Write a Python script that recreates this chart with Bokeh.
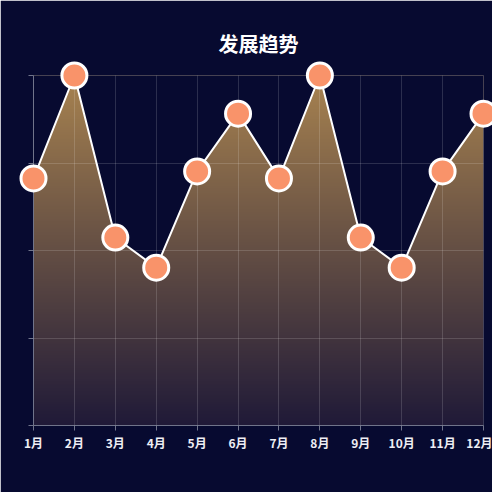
import numpy as np
from bokeh.plotting import figure
from bokeh.models import FixedTicker, CustomJSTickFormatter, Range1d
from bokeh.embed import file_html
from bokeh.resources import INLINE

# ---- data ----
months = ["1月", "2月", "3月", "4月", "5月", "6月", "7月", "8月", "9月", "10月", "11月", "12月"]
values = [70.6, 100, 53.7, 45.1, 72.6, 89.1, 70.6, 100, 53.7, 45.1, 72.6, 89.1]
y_ticks = [0, 25, 50, 75, 100]
title_text = "发展趋势"

# ---- styles ----
BG = "#070a30"
FONT = "Noto Sans CJK SC"
grad_top = (168, 131, 80)
grad_bottom = (32, 26, 56)

xs = list(range(len(months)))
ymax = y_ticks[-1]

p = figure(width=492, height=492, output_backend="svg", toolbar_location=None,
           x_range=Range1d(0, len(months) - 1), y_range=Range1d(0, ymax),
           min_border_left=33, min_border_right=9, min_border_top=75, min_border_bottom=67,
           background_fill_color=BG, border_fill_color=BG, outline_line_color=None)

# gradient fill (image under area), then mask above the line with background colour
n = 256
t = np.linspace(0, 1, n)
img = np.zeros((n, 1), dtype=np.uint32)
view = img.view(dtype=np.uint8).reshape((n, 1, 4))
for i in range(3):
    view[:, 0, i] = (grad_bottom[i] + (grad_top[i] - grad_bottom[i]) * t).astype(np.uint8)
view[:, 0, 3] = 255
p.image_rgba(image=[img], x=0, y=0, dw=len(months) - 1, dh=ymax, level="image")
p.varea(x=xs, y1=values, y2=[ymax] * len(xs), fill_color=BG, fill_alpha=1)

# line and markers
line = p.line(xs, values, line_color="white", line_width=2)
line.level = "overlay"
pts = p.scatter(xs, values, size=25, fill_color="#f9936a", line_color="white", line_width=3)
pts.level = "overlay"

# title
p.title.text = title_text
p.title.align = "center"
p.title.text_color = "white"
p.title.text_font = FONT
p.title.text_font_size = "20px"
p.title.text_font_style = "bold"
p.title.standoff = 35

# axes
p.xaxis.ticker = FixedTicker(ticks=xs)
p.xaxis.major_label_overrides = {i: m for i, m in enumerate(months)}
p.xaxis.major_label_text_color = "#eeeef4"
p.xaxis.major_label_text_font = FONT
p.xaxis.major_label_text_font_size = "12px"
p.xaxis.major_label_text_font_style = "bold"
p.xaxis.major_label_standoff = 3
p.xaxis.axis_line_color = "#70748a"
p.xaxis.major_tick_line_color = "#70748a"
p.xaxis.major_tick_out = 5
p.xaxis.major_tick_in = 0
p.xaxis.minor_tick_line_color = None

p.yaxis.ticker = FixedTicker(ticks=y_ticks)
p.yaxis.formatter = CustomJSTickFormatter(code="return ''")
p.yaxis.axis_line_color = "#70748a"
p.yaxis.major_tick_line_color = "#70748a"
p.yaxis.major_tick_out = 5
p.yaxis.major_tick_in = 0
p.yaxis.minor_tick_line_color = None
p.yaxis.major_label_standoff = 0

# grid drawn above fill
for g in (p.xgrid, p.ygrid):
    g.grid_line_color = "white"
    g.grid_line_alpha = 0.15
    g.level = "annotation"
p.xgrid.ticker = FixedTicker(ticks=xs)
p.ygrid.ticker = FixedTicker(ticks=y_ticks)

open("out.html", "w").write(file_html(p, INLINE))
